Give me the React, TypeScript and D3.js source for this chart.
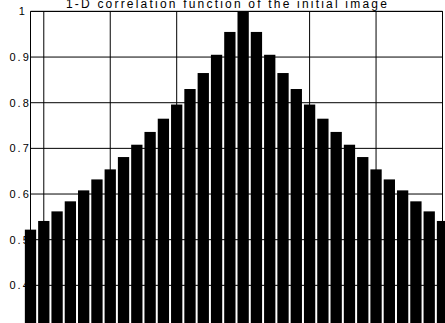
import React from 'react';
import * as d3 from 'd3';

// lag values and the 1-D correlation of the image (symmetric around lag 0)
const lags = d3.range(-16, 17);
const correlation = [
  0.522, 0.541, 0.562, 0.584, 0.608, 0.632, 0.654, 0.681, 0.708, 0.736, 0.765, 0.796, 0.83, 0.865, 0.905, 0.955,
  1.0,
  0.955, 0.905, 0.865, 0.83, 0.796, 0.765, 0.736, 0.708, 0.681, 0.654, 0.632, 0.608, 0.584, 0.562, 0.541, 0.522,
];
const xTicks = [-15, -10, -5, 0, 5, 10, 15];
const yTicks = [0.4, 0.5, 0.6, 0.7, 0.8, 0.9, 1];
const yTickLabels = ['0.4', '0.5', '0.6', '0.7', '0.8', '0.9', '1'];
const title = '1-D correlation function of the initial image';

const W = 445;
const H = 323;
const FONT = '"Liberation Sans", Arial, sans-serif';

// rough Arial advance widths (em) to place the tick labels like the original
const charWidth = (c: string) => (c === '.' ? 0.278 : 0.556);
const textWidth = (s: string, size: number) => s.split('').reduce((a, c) => a + charWidth(c) * size, 0);

const App = () => {
  const x = d3.scaleLinear().domain([-16, 15]).range([30.5, 442.5]);
  const y = d3.scaleLinear().domain([0.3, 1]).range([331, 11.4]);
  const step = x(1) - x(0);
  const barW = step * 0.85;

  return (
    <svg
      width={W}
      height={H}
      style={{ position: 'absolute', left: 0, top: 0, background: 'white' }}
      fontFamily={FONT}
    >
      <rect x={0} y={0} width={W} height={H} fill="white" />

      {/* grid */}
      {xTicks.map(t => (
        <line key={'gx' + t} x1={x(t)} x2={x(t)} y1={y(1)} y2={H} stroke="#000" strokeWidth={1} />
      ))}
      {yTicks.map(t => (
        <line key={'gy' + t} x1={x(-16)} x2={x(15)} y1={y(t)} y2={y(t)} stroke="#000" strokeWidth={1} />
      ))}

      {/* tick labels, drawn under the bars */}
      {yTicks.map((t, i) => (
        <text
          key={'ly' + t}
          x={24.8 - textWidth(yTickLabels[i], 11)}
          y={y(t)}
          dy="0.35em"
          fontSize={11}
          letterSpacing={2}
          fill="#000"
        >
          {yTickLabels[i]}
        </text>
      ))}

      {/* bars */}
      {lags.map((l, i) => (
        <rect
          key={'b' + l}
          x={x(l) - barW / 2}
          y={y(correlation[i])}
          width={barW}
          height={y(0.3) - y(correlation[i])}
          fill="#000"
        />
      ))}

      {/* axes box */}
      <line x1={x(-16)} x2={x(-16)} y1={y(1)} y2={H} stroke="#000" strokeWidth={1} />
      <line x1={x(15)} x2={x(15)} y1={y(1)} y2={H} stroke="#000" strokeWidth={1} />
      <line x1={x(-16)} x2={x(15)} y1={y(1)} y2={y(1)} stroke="#000" strokeWidth={1} />

      <text x={227.5} y={7.5} textAnchor="middle" fontSize={12} letterSpacing={2.2} fill="#000">
        {title}
      </text>
    </svg>
  );
};

export default App;
